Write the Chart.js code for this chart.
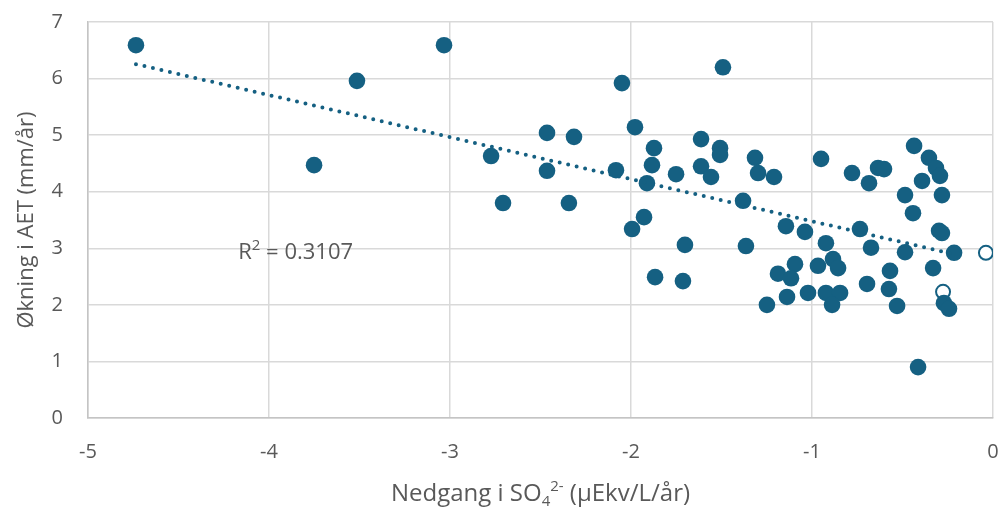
<!DOCTYPE html>
<html>
<head>
<meta charset="utf-8">
<script src="https://cdn.jsdelivr.net/npm/chart.js@4.4.1/dist/chart.umd.min.js"></script>
<style>
  html, body { margin: 0; padding: 0; background: #fff; }
  #wrap { width: 1002px; height: 510px; position: relative; }
</style>
</head>
<body>
<div id="wrap"><canvas id="chart"></canvas></div>
<script>
// Nedgang i SO4 (x) vs Økning i AET (y), filled markers
const sulfateDecline = [
  -4.735, -3.751, -3.514, -3.033, -2.773, -2.707, -2.464, -2.464, -2.315, -2.343,
  -2.083, -2.050, -1.978, -1.873, -1.884, -1.912, -1.928, -1.994, -1.867, -1.492,
  -1.613, -1.508, -1.508, -1.613, -1.558, -1.751, -1.315, -1.298, -1.210, -1.381,
  -1.144, -1.039, -0.950, -0.779, -0.685, -0.635, -0.602, -0.436, -0.354, -0.315,
  -0.293, -0.392, -0.486, -0.442, -0.282, -0.298, -0.282, -0.735, -1.702, -1.365,
  -0.923, -0.674, -0.486, -0.215, -0.331, -0.569, -0.575, -0.530, -0.696, -0.271,
  -0.243, -0.414, -0.967, -0.884, -0.856, -1.022, -0.923, -0.845, -0.889, -1.713,
  -1.094, -1.188, -1.116, -1.138, -1.249
];
const aetIncrease = [
  6.59, 4.47, 5.96, 6.59, 4.63, 3.80, 5.04, 4.37, 4.97, 3.80,
  4.38, 5.92, 5.14, 4.77, 4.47, 4.15, 3.55, 3.34, 2.49, 6.20,
  4.93, 4.77, 4.65, 4.45, 4.26, 4.31, 4.60, 4.33, 4.26, 3.84,
  3.39, 3.29, 4.58, 4.33, 4.15, 4.42, 4.40, 4.81, 4.60, 4.42,
  4.28, 4.19, 3.94, 3.62, 3.94, 3.31, 3.27, 3.34, 3.06, 3.04,
  3.09, 3.01, 2.93, 2.92, 2.65, 2.60, 2.28, 1.98, 2.37, 2.03,
  1.93, 0.90, 2.69, 2.81, 2.65, 2.21, 2.21, 2.21, 2.00, 2.42,
  2.72, 2.55, 2.47, 2.14, 2.00
];
// open markers
const openSulfate = [-0.039, -0.276];
const openAet = [2.92, 2.23];

const xTicks = [-5, -4, -3, -2, -1, 0];
const yTicks = [0, 1, 2, 3, 4, 5, 6, 7];
const rSquared = '0.3107';

const blue = '#156082';
const grey = '#595959';
const fontName = '"Open Sans", "Liberation Sans", sans-serif';

// least squares trendline over the filled markers
const n = sulfateDecline.length;
let sx = 0, sy = 0, sxx = 0, sxy = 0;
for (let i = 0; i < n; i++) {
  sx += sulfateDecline[i]; sy += aetIncrease[i];
  sxx += sulfateDecline[i] * sulfateDecline[i];
  sxy += sulfateDecline[i] * aetIncrease[i];
}
const slope = (n * sxy - sx * sy) / (n * sxx - sx * sx);
const intercept = (sy - slope * sx) / n;
const xMin = Math.min(...sulfateDecline), xMax = Math.max(...sulfateDecline);
const trend = [xMin, xMax].map(x => ({ x: x, y: intercept + slope * x }));

const filled = sulfateDecline.map((x, i) => ({ x: x, y: aetIncrease[i] }));
const open = openSulfate.map((x, i) => ({ x: x, y: openAet[i] }));

const textPlugin = {
  id: 'texts',
  afterDraw(chart) {
    const ctx = chart.ctx, area = chart.chartArea;
    const sx = chart.scales.x, sy = chart.scales.y;
    ctx.save();
    ctx.fillStyle = grey;
    ctx.textAlign = 'left';
    ctx.textBaseline = 'alphabetic';

    // x axis title with sub/superscript
    const big = '24px ' + fontName, small = '15px ' + fontName;
    const parts = [
      { t: 'Nedgang i SO', f: big, dy: 0 },
      { t: '4', f: small, dy: 5 },
      { t: '2-', f: small, dy: -10 },
      { t: ' (µEkv/L/år)', f: big, dy: 0 }
    ];
    let w = 0;
    parts.forEach(p => { ctx.font = p.f; p.w = ctx.measureText(p.t).width; w += p.w; });
    let x = (area.left + area.right) / 2 - w / 2;
    parts.forEach(p => { ctx.font = p.f; ctx.fillText(p.t, x, 501 + p.dy); x += p.w; });

    // R² label
    const rBig = '22px ' + fontName;
    let rx = sx.getPixelForValue(-4.17), ry = sy.getPixelForValue(2.81);
    const rParts = [
      { t: 'R', f: rBig, dy: 0 },
      { t: '2', f: small, dy: -9 },
      { t: ' = ' + rSquared, f: rBig, dy: 0 }
    ];
    rParts.forEach(p => { ctx.font = p.f; ctx.fillText(p.t, rx, ry + p.dy); rx += ctx.measureText(p.t).width; });

    // y axis title
    ctx.translate(33, (area.top + area.bottom) / 2);
    ctx.rotate(-Math.PI / 2);
    ctx.font = '22px ' + fontName;
    ctx.textAlign = 'center';
    ctx.fillText('Økning i AET (mm/år)', 0, 0);
    ctx.restore();
  }
};

new Chart(document.getElementById('chart'), {
  type: 'scatter',
  data: {
    datasets: [
      {
        type: 'line',
        data: trend,
        borderColor: blue,
        borderWidth: 4,
        borderDash: [0, 8.7],
        borderCapStyle: 'round',
        pointRadius: 0,
        fill: false
      },
      {
        data: filled,
        backgroundColor: blue,
        borderColor: blue,
        borderWidth: 0,
        pointRadius: 8.3
      },
      {
        data: open,
        backgroundColor: '#ffffff',
        borderColor: blue,
        borderWidth: 2,
        pointRadius: 7
      }
    ]
  },
  options: {
    responsive: true,
    maintainAspectRatio: false,
    animation: false,
    layout: { padding: { top: 22, right: 9, left: 0, bottom: 0 } },
    plugins: { legend: { display: false }, tooltip: { enabled: false } },
    scales: {
      x: {
        type: 'linear',
        min: -5, max: 0,
        afterBuildTicks: s => { s.ticks = xTicks.map(v => ({ value: v })); },
        afterFit: s => { s.height = 92; s.paddingLeft = 0; s.paddingRight = 0; },
        grid: { color: '#d9d9d9', lineWidth: 1.5, drawTicks: false },
        border: { color: '#c4c4c4', width: 1.5 },
        ticks: { color: grey, padding: 22, font: { family: fontName, size: 20 }, callback: v => String(v) }
      },
      y: {
        type: 'linear',
        min: 0, max: 7,
        afterBuildTicks: s => { s.ticks = yTicks.map(v => ({ value: v })); },
        afterFit: s => { s.width = 88; s.paddingTop = 0; s.paddingBottom = 0; },
        grid: { color: '#d9d9d9', lineWidth: 1.5, drawTicks: false },
        border: { color: '#c4c4c4', width: 1.5 },
        ticks: { color: grey, padding: 25, font: { family: fontName, size: 20 }, callback: v => String(v) }
      }
    }
  },
  plugins: [textPlugin]
});
</script>
</body>
</html>
